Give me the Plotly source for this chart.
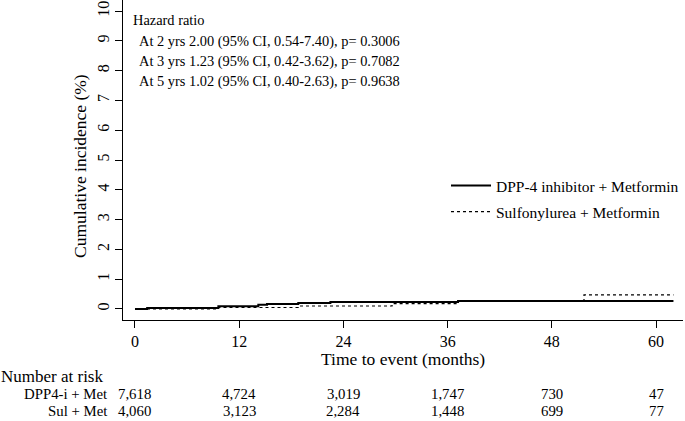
import plotly.graph_objects as go

# ---- data ----
dpp_time = [0, 1.4, 9.6, 14.2, 15.2, 18.8, 22.5, 37.2, 62]
dpp_inc = [0, 0.03, 0.09, 0.14, 0.17, 0.20, 0.23, 0.27, 0.27]
sul_time = [0, 9.6, 18.8, 29.6, 37.2, 51.7, 62]
sul_inc = [0, 0.05, 0.10, 0.18, 0.28, 0.47, 0.47]

x_ticks = [0, 12, 24, 36, 48, 60]
y_ticks = list(range(0, 11))
risk_dpp = ["7,618", "4,724", "3,019", "1,747", "730", "47"]
risk_sul = ["4,060", "3,123", "2,284", "1,448", "699", "77"]
hr_lines = [
    "Hazard ratio",
    "At 2 yrs 2.00 (95% CI, 0.54-7.40), p= 0.3006",
    "At 3 yrs 1.23 (95% CI, 0.42-3.62), p= 0.7082",
    "At 5 yrs 1.02 (95% CI, 0.40-2.63), p= 0.9638",
]

FONT = "Liberation Serif"
W, H = 685, 421
L, R, T, B = 123, 2, 0, 101
PW, PH = W - L - R, H - T - B

def px(xp):
    return (xp - L) / PW

def py(yp):
    return (T + PH - yp) / PH

def txt(text, x, y, size, xanchor="left", xref="paper", angle=0):
    return dict(text=text, xref=xref, yref="paper", x=x, y=py(y), xanchor=xanchor, yanchor="middle",
                textangle=angle, showarrow=False, borderpad=0,
                font=dict(family=FONT, size=size, color="black"))

fig = go.Figure()
fig.add_trace(go.Scatter(x=dpp_time, y=dpp_inc, mode="lines", line=dict(shape="hv", color="black", width=2),
                         name="DPP-4 inhibitor + Metformin", legend="legend"))
fig.add_trace(go.Scatter(x=sul_time, y=sul_inc, mode="lines", line=dict(shape="hv", color="black", width=1.2, dash="dot"),
                         name="Sulfonylurea + Metformin", legend="legend2"))

ann = []
hr_pos = [(132, 20), (138, 41), (138, 61), (138, 81)]
for t, (xp, yp) in zip(hr_lines, hr_pos):
    ann.append(txt(t, px(xp), yp, 14.4))
ann.append(txt("Time to event (months)", px(403), 359, 17.5, xanchor="center"))
ann.append(txt("Cumulative incidence (%)", px(80), 166, 17.5, xanchor="center", angle=-90))
ann.append(txt("Number at risk", px(0), 376, 17))
ann.append(txt("DPP4-i + Met", px(109), 394, 14.8, xanchor="right"))
ann.append(txt("Sul + Met", px(109), 411, 14.8, xanchor="right"))
for xt, a, b in zip(x_ticks, risk_dpp, risk_sul):
    ann.append(txt(a, xt, 394, 14.8, xanchor="center", xref="x"))
    ann.append(txt(b, xt, 411, 14.8, xanchor="center", xref="x"))

axis_common = dict(showline=True, linecolor="black", linewidth=1, ticks="outside", ticklen=7, tickcolor="black",
                   showgrid=False, zeroline=False, tickfont=dict(family=FONT, size=16, color="black"))

fig.update_layout(
    width=W, height=H, margin=dict(l=L, r=R, t=T, b=B),
    paper_bgcolor="white", plot_bgcolor="white",
    xaxis=dict(range=[-1.38, 63.1], tickvals=x_ticks, **axis_common),
    yaxis=dict(range=[-0.37, 10.37], tickvals=y_ticks, tickangle=-90, **axis_common),
    legend=dict(x=px(446), y=py(186), xanchor="left", yanchor="middle", bgcolor="rgba(0,0,0,0)",
                font=dict(family=FONT, size=15.5, color="black"), itemwidth=40),
    legend2=dict(x=px(446), y=py(212), xanchor="left", yanchor="middle", bgcolor="rgba(0,0,0,0)",
                 font=dict(family=FONT, size=15.5, color="black"), itemwidth=40),
    annotations=ann,
    showlegend=True,
)
fig.write_html("out.html", config={"displayModeBar": False},
               post_script="document.body.style.margin='0';document.body.style.overflow='hidden';")
